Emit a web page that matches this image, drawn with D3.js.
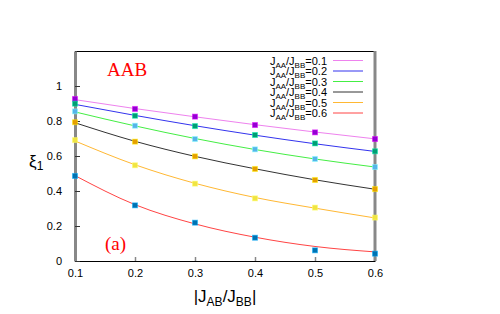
<!DOCTYPE html>
<html>
<head>
<meta charset="utf-8">
<script src="https://d3js.org/d3.v7.min.js"></script>
<style>
  body { margin: 0; background: #fff; }
</style>
</head>
<body>
<div id="plot"></div>
<script>
// data
var ratios = [0.1, 0.2, 0.3, 0.4, 0.5, 0.6];          // |J_AB/J_BB|
var seriesLabels = ["0.1", "0.2", "0.3", "0.4", "0.5", "0.6"]; // J_AA/J_BB

var pts01 = [0.926, 0.869, 0.825, 0.777, 0.735, 0.697];
var pts02 = [0.899, 0.830, 0.771, 0.720, 0.672, 0.627];
var pts03 = [0.855, 0.773, 0.697, 0.638, 0.583, 0.537];
var pts04 = [0.793, 0.682, 0.598, 0.526, 0.463, 0.411];
var pts05 = [0.691, 0.547, 0.442, 0.358, 0.305, 0.248];
var pts06 = [0.486, 0.318, 0.219, 0.133, 0.061, 0.042];

var fit01 = [0.922, 0.871, 0.824, 0.779, 0.737, 0.698];
var fit02 = [0.895, 0.832, 0.773, 0.719, 0.670, 0.626];
var fit03 = [0.852, 0.772, 0.700, 0.637, 0.583, 0.537];
var fit04 = [0.790, 0.684, 0.598, 0.527, 0.464, 0.410];
var fit05 = [0.686, 0.550, 0.444, 0.363, 0.302, 0.246];
var fit06 = [0.488, 0.322, 0.212, 0.136, 0.083, 0.052];

var yTicks = [0, 0.2, 0.4, 0.6, 0.8, 1];
var xTicks = [0.1, 0.2, 0.3, 0.4, 0.5, 0.6];

var lineColors = ["#ee82ee", "#3333ee", "#44ee44", "#333333", "#ffb833", "#ff4444"];
var markColors = ["#9400d3", "#009e73", "#56b4e9", "#e69f00", "#f0e442", "#0072b2"];

var allPts = [pts01, pts02, pts03, pts04, pts05, pts06];
var allFits = [fit01, fit02, fit03, fit04, fit05, fit06];

var sans = "'Liberation Sans', Arial, sans-serif";
var serif = "'Liberation Serif', 'Times New Roman', serif";

/* Step 1: workspace */
var svgWidth = 500, svgHeight = 314;
var margin = { top: 51, right: 125, bottom: 53, left: 75 };
var width = svgWidth - margin.left - margin.right;
var height = svgHeight - margin.top - margin.bottom;

var svg = d3.select("#plot").append("svg")
    .attr("width", svgWidth)
    .attr("height", svgHeight)
    .style("font-family", sans);

var chartGroup = svg.append("g")
    .attr("transform", `translate(${margin.left}, ${margin.top})`);

/* Step 2: scales */
var xScale = d3.scaleLinear().domain([0.1, 0.6]).range([0, width]);
var yScale = d3.scaleLinear().domain([0, 1.2]).range([height, 0]);

/* Step 3: frame and axes */
chartGroup.append("line")
    .attr("x1", 0).attr("x2", width).attr("y1", 0.5).attr("y2", 0.5)
    .attr("stroke", "#000").attr("stroke-width", 1);

var xAxis = d3.axisBottom(xScale).tickValues(xTicks)
    .tickFormat(d3.format(".1f")).tickSizeInner(-4).tickSizeOuter(0).tickPadding(8);
var xg = chartGroup.append("g")
    .attr("transform", `translate(0, ${height})`)
    .call(xAxis);
xg.select(".domain").attr("stroke", "#000");
xg.selectAll(".tick line").attr("stroke", "#888").attr("stroke-width", 1.5);
xg.selectAll("text").attr("fill", "#000")
    .style("font-family", sans).style("font-size", "11px");

var yAxis = d3.axisLeft(yScale).tickValues(yTicks)
    .tickFormat(d => d === 0 ? "0" : d === 1 ? "1" : d3.format(".1f")(d))
    .tickSizeInner(-5).tickSizeOuter(0).tickPadding(13);
var yg = chartGroup.append("g").call(yAxis);
yg.select(".domain").attr("stroke", "#888").attr("stroke-width", 3);
yg.selectAll(".tick line").attr("stroke", "#333").attr("stroke-width", 1);
yg.selectAll("text").attr("fill", "#000")
    .style("font-family", sans).style("font-size", "11px");

// right border
chartGroup.append("line")
    .attr("x1", width).attr("x2", width).attr("y1", 0).attr("y2", height)
    .attr("stroke", "#888").attr("stroke-width", 3);

/* Step 4: fitted curves and points */
var lineGenerator = d3.line()
    .x((d, i) => xScale(ratios[i]))
    .y(d => yScale(d))
    .curve(d3.curveMonotoneX);

allFits.forEach(function (fit, s) {
    chartGroup.append("path")
        .attr("d", lineGenerator(fit))
        .attr("fill", "none")
        .attr("stroke", lineColors[s])
        .attr("stroke-width", 1);
});

allPts.forEach(function (pts, s) {
    chartGroup.selectAll(".pt" + s)
        .data(pts)
        .enter()
        .append("rect")
        .attr("class", "pt" + s)
        .attr("x", (d, i) => xScale(ratios[i]) - 2.5)
        .attr("y", d => yScale(d) - 2.5)
        .attr("width", 5)
        .attr("height", 5)
        .attr("fill", markColors[s])
        .attr("stroke", d3.color(markColors[s]).brighter(1.2))
        .attr("stroke-opacity", 0.5)
        .attr("stroke-width", 1);
});

/* Step 5: legend */
var legend = chartGroup.append("g");
seriesLabels.forEach(function (lab, s) {
    var ly = 9.5 + s * 10.5;
    var t = legend.append("text")
        .attr("x", 252)
        .attr("y", ly + 4)
        .attr("text-anchor", "end")
        .style("font-size", "11px")
        .attr("fill", "#000");
    t.append("tspan").text("J");
    t.append("tspan").style("font-size", "8px").attr("dy", 3).text("AA");
    t.append("tspan").attr("dy", -3).text("/J");
    t.append("tspan").style("font-size", "8px").attr("dy", 3).text("BB");
    t.append("tspan").attr("dy", -3).text("=" + lab);
    legend.append("line")
        .attr("x1", 258).attr("x2", 288)
        .attr("y1", ly).attr("y2", ly)
        .attr("stroke", lineColors[s])
        .attr("stroke-width", 1);
});

/* Step 6: titles */
chartGroup.append("text")
    .attr("x", 32).attr("y", 25)
    .style("font-family", serif)
    .style("font-size", "19px").attr("fill", "#ff0000")
    .text("AAB");

chartGroup.append("text")
    .attr("x", 30).attr("y", 199)
    .style("font-family", serif)
    .style("font-size", "19px").attr("fill", "#ff0000")
    .text("(a)");

var xt = svg.append("text")
    .attr("x", margin.left + width / 2).attr("y", 302)
    .attr("text-anchor", "middle")
    .style("font-size", "17px").attr("fill", "#000");
xt.append("tspan").text("|J");
xt.append("tspan").style("font-size", "12px").attr("dy", 4).text("AB");
xt.append("tspan").attr("dy", -4).text("/J");
xt.append("tspan").style("font-size", "12px").attr("dy", 4).text("BB");
xt.append("tspan").attr("dy", -4).text("|");

var yt = svg.append("text")
    .attr("x", 29).attr("y", 167)
    .style("font-size", "17px").attr("fill", "#000");
yt.append("tspan").text("ξ");
yt.append("tspan").style("font-size", "12px").attr("dy", 3).text("1");
</script>
</body>
</html>
